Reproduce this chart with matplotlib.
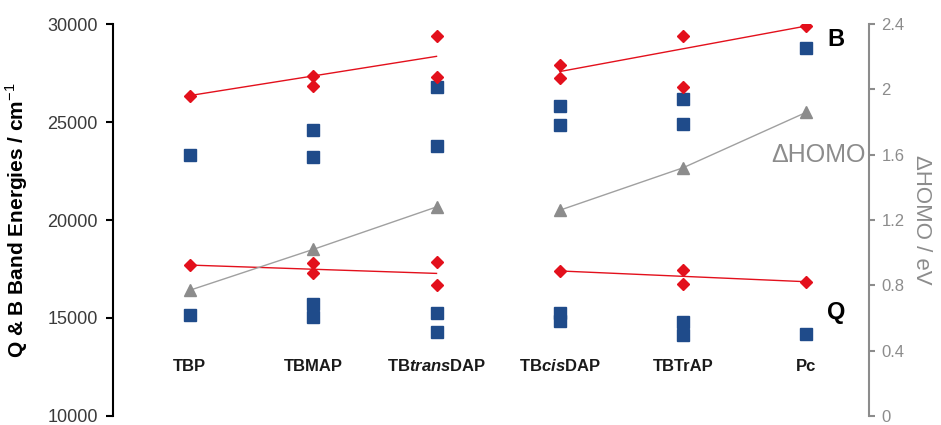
import matplotlib
matplotlib.use("Agg")
import matplotlib.pyplot as plt
import numpy as np

plt.rcParams["font.family"] = ["Liberation Sans", "DejaVu Sans"]
plt.rcParams["mathtext.fontset"] = "custom"
plt.rcParams["mathtext.rm"] = "Liberation Sans"
plt.rcParams["mathtext.bf"] = "Liberation Sans:bold"
plt.rcParams["mathtext.bfit"] = "Liberation Sans:bold:italic"

categories = ["TBP", "TBMAP", r"TB$\mathbfit{trans}$DAP", r"TB$\mathbfit{cis}$DAP", "TBTrAP", "Pc"]
groups = [[0, 1, 2], [3, 4, 5]]

# band energies (cm-1), one list per compound
b_calc = [[26350], [27350, 26850], [29400, 27300], [27900, 27250], [29400, 26800], [29900]]
b_exp = [[23300], [24600, 23200], [26800, 23800], [25800, 24850], [26150, 24900], [28800]]
q_calc = [[17700], [17800, 17300], [17850, 16700], [17400], [17450, 16750], [16850]]
q_exp = [[15150], [15700, 15050], [15250, 14300], [15250, 14850], [14800, 14150], [14200]]
# HOMO splitting (eV)
dhomo = [0.77, 1.02, 1.28, 1.26, 1.52, 1.86]

RED = "#e3101c"
BLUE = "#1f4b8a"
GREY = "#8c8c8c"

fig = plt.figure(figsize=(9.41, 4.25), dpi=100)
ax = fig.add_axes([0.120, 0.0212, 0.8035, 0.9223])
ax2 = ax.twinx()


def scatter_sets(sets, **kw):
    xs = [i for i, vals in enumerate(sets) for _ in vals]
    ys = [v for vals in sets for v in vals]
    ax.plot(xs, ys, linestyle="none", zorder=4, **kw)


# trend lines: mean of first compound to mean of last compound in each group
for sets in (b_calc, q_calc):
    for g in groups:
        ax.plot([g[0], g[-1]], [np.mean(sets[g[0]]), np.mean(sets[g[-1]])],
                color=RED, lw=1.0, zorder=3)

scatter_sets(b_exp, marker="s", ms=8, color=BLUE, mec=BLUE)
scatter_sets(q_exp, marker="s", ms=8, color=BLUE, mec=BLUE)
scatter_sets(b_calc, marker="D", ms=6.5, color=RED, mec=RED)
scatter_sets(q_calc, marker="D", ms=6.5, color=RED, mec=RED)

for g in groups:
    ax2.plot(g, [dhomo[i] for i in g], color="#a0a0a0", lw=1.0, zorder=2)
    ax2.plot(g, [dhomo[i] for i in g], linestyle="none", marker="^", ms=8.5,
             color=GREY, mec=GREY, zorder=3)

ax.set_xlim(-0.624, 5.507)
ax.set_ylim(10000, 30000)
ax.set_yticks(np.arange(10000, 30001, 5000))
ax.set_xticks([])
ax2.set_ylim(0, 2.4)
ax2.set_yticks([0, 0.4, 0.8, 1.2, 1.6, 2.0, 2.4])
ax2.set_yticklabels(["0", "0.4", "0.8", "1.2", "1.6", "2", "2.4"])

for a in (ax, ax2):
    a.spines["top"].set_visible(False)
    a.spines["bottom"].set_visible(False)
ax.spines["right"].set_visible(False)
ax2.spines["left"].set_visible(False)
ax.spines["left"].set_linewidth(1.5)
ax.spines["left"].set_color("black")
ax2.spines["right"].set_linewidth(1.5)
ax2.spines["right"].set_color(GREY)

ax.tick_params(axis="y", direction="out", length=5, width=1.5, color="black",
               labelsize=13, labelcolor="#3a3a3a", pad=6)
ax2.tick_params(axis="y", direction="out", length=4, width=1.5, color=GREY,
                labelsize=12, labelcolor=GREY, pad=5)

for i, name in enumerate(categories):
    ax.text(i, 12550, name, ha="center", va="center", fontsize=12,
            fontweight="bold", color="#1a1a1a")

ax.set_ylabel("Q & B Band Energies / cm$^{-1}$", fontsize=15, fontweight="bold",
              labelpad=12)
ax2.set_ylabel("ΔHOMO / eV", fontsize=16, color=GREY, rotation=-90, labelpad=20)

ax.text(5.17, 29200, "B", ha="left", va="center", fontsize=17, fontweight="bold")
ax.text(5.17, 15300, "Q", ha="left", va="center", fontsize=17, fontweight="bold")
ax2.text(5.48, 1.6, "ΔHOMO", ha="right", va="center", fontsize=18, color=GREY)

fig.savefig("out.png", dpi=100)
